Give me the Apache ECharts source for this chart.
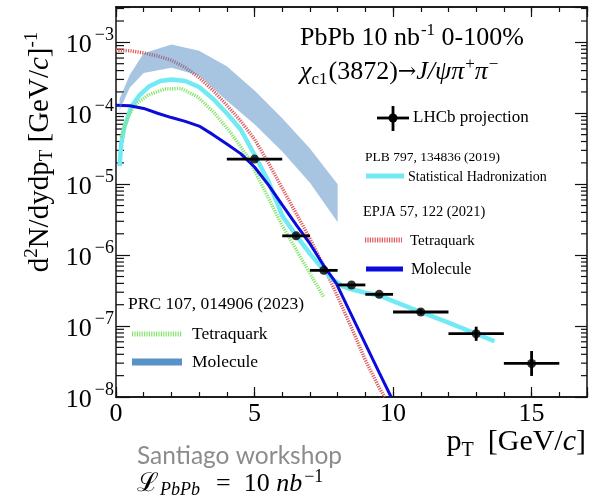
<!DOCTYPE html>
<html><head><meta charset="utf-8">
<script src="https://cdn.jsdelivr.net/npm/echarts@6/dist/echarts.min.js"></script>
<style>html,body{margin:0;padding:0;background:#fff}#c{width:610px;height:503px}</style>
</head><body><div id="c"></div>
<script>
// ---------------- data ----------------
const X_MIN = 0, X_MAX = 17, Y_MIN = 1e-8, Y_MAX = 3.15e-3;
const xTickLabels = [0, 5, 10, 15];

// LHCb projection points
const ptX    = [5, 6.5, 7.5, 8.5, 9.5, 11, 13, 15];
const ptY    = [2.26e-5, 1.87e-6, 6.1e-7, 3.8e-7, 2.8e-7, 1.58e-7, 7.8e-8, 2.97e-8];
const ptXErr = [1, 0.5, 0.5, 0.5, 0.5, 1, 1, 1];
const ptYLo  = [2.2e-5, 1.82e-6, 5.9e-7, 3.7e-7, 2.7e-7, 1.45e-7, 6.2e-8, 1.98e-8];
const ptYHi  = [2.32e-5, 1.92e-6, 6.3e-7, 3.9e-7, 2.9e-7, 1.73e-7, 9.8e-8, 4.45e-8];

// Statistical Hadronization (PLB 797)
const shmX = [0.13, 0.19, 0.31, 0.55, 0.85, 1.2, 1.6, 2.0, 2.5, 3.0, 3.5, 4.0, 4.5, 5.0, 5.5, 6.0, 6.5, 7.0, 7.5, 7.83, 8.2, 8.5, 9.0, 9.5, 10, 11, 12, 13, 13.66];
const shmY = [1.8e-5, 3.8e-5, 6.5e-5, 1.23e-4, 1.8e-4, 2.4e-4, 2.85e-4, 3.0e-4, 2.85e-4, 2.35e-4, 1.6e-4, 1.0e-4, 5.9e-5, 2.6e-5, 1.1e-5, 3.6e-6, 1.9e-6, 1.05e-6, 6.1e-7, 4.5e-7, 3.6e-7, 3.3e-7, 2.95e-7, 2.7e-7, 2.25e-7, 1.58e-7, 1.12e-7, 7.8e-8, 6.1e-8];

// EPJA 57 Tetraquark
const epjaTetX = [0, 0.5, 1.0, 1.5, 2.0, 2.5, 3.0, 3.5, 4.0, 4.5, 5.0, 5.5, 6.0, 6.5, 7.0, 7.5, 8.0, 8.5, 9.0, 9.5, 9.7];
const epjaTetY = [7.8e-4, 7.6e-4, 7.1e-4, 6.4e-4, 5.6e-4, 4.4e-4, 3.2e-4, 2.1e-4, 1.3e-4, 7.8e-5, 4.3e-5, 2.0e-5, 8.8e-6, 3.9e-6, 1.7e-6, 7.0e-7, 2.6e-7, 9.5e-8, 3.3e-8, 1.35e-8, 1.0e-8];

// EPJA 57 Molecule
const epjaMolX = [0, 0.5, 1.0, 1.5, 2.0, 2.5, 3.0, 3.5, 4.0, 4.5, 5.0, 5.5, 6.0, 6.5, 7.0, 7.5, 7.95, 8.5, 9.0, 9.5, 9.93];
const epjaMolY = [1.3e-4, 1.28e-4, 1.17e-4, 1.0e-4, 8.7e-5, 7.7e-5, 6.6e-5, 5.0e-5, 3.7e-5, 2.7e-5, 1.75e-5, 9.8e-6, 5.1e-6, 2.7e-6, 1.45e-6, 7.1e-7, 4.0e-7, 1.43e-7, 5.6e-8, 2.2e-8, 1.0e-8];

// PRC 107 Tetraquark
const prcTetX = [0.19, 0.3, 0.43, 0.67, 1.15, 1.75, 2.35, 2.95, 3.56, 4.16, 4.76, 5.24, 6.0, 6.5, 7.0, 7.49];
const prcTetY = [4.6e-5, 6.5e-5, 8.9e-5, 1.3e-4, 1.8e-4, 2.2e-4, 2.24e-4, 1.7e-4, 1.0e-4, 5.2e-5, 2.4e-5, 1.02e-5, 2.6e-6, 1.2e-6, 5.5e-7, 2.6e-7];

// PRC 107 Molecule band
const bandX  = [0.13, 0.5, 1.0, 2.0, 3.0, 4.0, 5.0, 6.0, 7.0, 8.0];
const bandHi = [1.6e-4, 3.5e-4, 7.0e-4, 9.3e-4, 7.6e-4, 4.6e-4, 2.1e-4, 8.5e-5, 3.2e-5, 1.0e-5];
const bandLo = [1.1e-4, 2.3e-4, 3.7e-4, 4.4e-4, 3.4e-4, 1.5e-4, 7.0e-5, 2.9e-5, 1.05e-5, 2.9e-6];

// ---------------- styles ----------------
const SERIF = 'Liberation Serif';
const C_SHM = '#72eaf3', C_RED = '#e05a5a', C_BLUE = '#0b0bdc', C_GREEN = '#86e46c';
const C_BAND = 'rgba(80,140,195,0.5)', C_BAND_SOLID = 'rgb(88,146,198)';
const GRAY = '#8c8c8c';

const zip = (xs, ys) => xs.map((x, i) => [x, ys[i]]);

const yMinor = [];
for (let e = -8; e <= -3; e++) for (let k = 2; k <= 9; k++) { const v = k * Math.pow(10, e); if (v < Y_MAX) yMinor.push(v); }

function supRich(size, raise, padL) { return { fontFamily: SERIF, fontSize: size, color: '#000', padding: [0, 0, raise, padL || 0] }; }
function subRich(size, drop, padR) { return { fontFamily: SERIF, fontSize: size, color: '#000', padding: [drop, padR || 0, 0, 0] }; }

const xBase = { type: 'value', min: X_MIN, max: X_MAX, splitLine: { show: false }, axisLine: { onZero: false, lineStyle: { color: '#111', width: 1.5 } } };
const yBase = { type: 'log', logBase: 10, min: Y_MIN, max: Y_MAX, splitLine: { show: false }, axisLine: { onZero: false, lineStyle: { color: '#111', width: 1.5 } } };

const option = {
  animation: false,
  backgroundColor: '#fff',
  grid: { left: 116, top: 7, width: 471, height: 390, containLabel: false },
  xAxis: [
    Object.assign({}, xBase, { position: 'bottom', interval: 5,
      axisTick: { inside: true, length: 10, lineStyle: { color: '#111', width: 1.2 } },
      axisLabel: { margin: 4, fontFamily: SERIF, fontSize: 26, color: '#000',
        formatter: v => (xTickLabels.indexOf(v) >= 0 ? String(v) : '') } }),
    Object.assign({}, xBase, { position: 'bottom', interval: 1,
      axisTick: { inside: true, length: 5, lineStyle: { color: '#111', width: 1.2 } }, axisLabel: { show: false } }),
    Object.assign({}, xBase, { position: 'top', interval: 5,
      axisTick: { inside: true, length: 10, lineStyle: { color: '#111', width: 1.2 } }, axisLabel: { show: false } }),
    Object.assign({}, xBase, { position: 'top', interval: 1,
      axisTick: { inside: true, length: 5, lineStyle: { color: '#111', width: 1.2 } }, axisLabel: { show: false } })
  ],
  yAxis: [
    Object.assign({}, yBase, { position: 'left',
      axisTick: { inside: true, length: 14, lineStyle: { color: '#111', width: 1.2 } },
      axisLabel: { margin: 2, color: '#000',
        formatter: v => {
          const e = Math.log10(v), r = Math.round(e);
          if (Math.abs(e - r) > 1e-6) return '';
          return '{b|10}{s|\u2212' + (-r) + '}';
        },
        rich: { b: { fontFamily: SERIF, fontSize: 26, color: '#000', padding: [6, 0, 0, 0] }, s: supRich(18, 14, 3) } } }),
    Object.assign({}, yBase, { position: 'right',
      axisTick: { inside: true, length: 12, lineStyle: { color: '#111', width: 1.2 } }, axisLabel: { show: false } })
  ],
  series: [
    { // minor log ticks, both sides
      type: 'custom', xAxisIndex: 0, yAxisIndex: 0, silent: true, z: 1,
      data: yMinor.map(v => [X_MIN, v]),
      renderItem: (params, api) => {
        const v = api.value(1);
        const pL = api.coord([X_MIN, v]), pR = api.coord([X_MAX, v]);
        return { type: 'group', children: [
          { type: 'line', shape: { x1: pL[0], y1: pL[1], x2: pL[0] + 8, y2: pL[1] }, style: { stroke: '#111', lineWidth: 1.2 } },
          { type: 'line', shape: { x1: pR[0], y1: pR[1], x2: pR[0] - 6, y2: pR[1] }, style: { stroke: '#111', lineWidth: 1.2 } }
        ] };
      }
    },
    { name: 'Tetraquark (EPJA)', type: 'line', data: zip(epjaTetX, epjaTetY), showSymbol: false, z: 2,
      lineStyle: { color: C_RED, width: 3.5, type: [1.2, 1.2] } },
    { name: 'Statistical Hadronization', type: 'line', data: zip(shmX, shmY), showSymbol: false, z: 2,
      lineStyle: { color: C_SHM, width: 4.5 } },
    { name: 'Tetraquark (PRC)', type: 'line', data: zip(prcTetX, prcTetY), showSymbol: false, z: 2,
      lineStyle: { color: C_GREEN, width: 3.5, type: [1.2, 1.2] } },
    { name: 'Molecule (EPJA)', type: 'line', data: zip(epjaMolX, epjaMolY), showSymbol: false, z: 3,
      lineStyle: { color: C_BLUE, width: 3 } },
    { name: 'Molecule (PRC)', type: 'custom', silent: true, z: 4,
      data: [[bandX[0], bandLo[0]]],
      renderItem: (params, api) => {
        const pts = [];
        for (let i = 0; i < bandX.length; i++) pts.push(api.coord([bandX[i], bandHi[i]]));
        for (let i = bandX.length - 1; i >= 0; i--) pts.push(api.coord([bandX[i], bandLo[i]]));
        return { type: 'polygon', shape: { points: pts }, style: { fill: C_BAND } };
      }
    },
    { name: 'LHCb projection errors', type: 'custom', silent: true, z: 6,
      data: ptX.map((x, i) => [x, ptY[i], x - ptXErr[i], x + ptXErr[i], ptYLo[i], ptYHi[i]]),
      encode: { x: 0, y: 1 },
      renderItem: (params, api) => {
        const x = api.value(0), y = api.value(1);
        const a = api.coord([api.value(2), y]), b = api.coord([api.value(3), y]);
        const c = api.coord([x, api.value(4)]), d = api.coord([x, api.value(5)]);
        return { type: 'group', children: [
          { type: 'line', shape: { x1: a[0], y1: a[1], x2: b[0], y2: b[1] }, style: { stroke: '#000', lineWidth: 2.8 } },
          { type: 'line', shape: { x1: c[0], y1: c[1], x2: d[0], y2: d[1] }, style: { stroke: '#000', lineWidth: 2.8 } }
        ] };
      }
    },
    { name: 'LHCb projection', type: 'scatter', data: zip(ptX, ptY), symbol: 'circle', symbolSize: 9, z: 7,
      itemStyle: { color: '#000' } }
  ],
  graphic: [
    // y axis title
    { type: 'text', x: 40, y: 152, rotation: Math.PI / 2, z: 10,
      style: { text: '{a|d}{s|2}{a|N/dydp}{u|T}{a| [GeV/}{i|c}{a|]}{s|-1}', align: 'center', verticalAlign: 'middle',
        rich: { a: { fontFamily: SERIF, fontSize: 29, color: '#000' }, i: { fontFamily: SERIF, fontStyle: 'italic', fontSize: 29, color: '#000' },
                s: supRich(19, 16), u: subRich(19, 14) } } },
    // x axis title
    { type: 'text', x: 586, y: 442, z: 10,
      style: { text: '{a|p}{u|T}{a|[GeV/}{i|c}{a|]}', align: 'right', verticalAlign: 'middle',
        rich: { a: { fontFamily: SERIF, fontSize: 30, color: '#000' }, i: { fontFamily: SERIF, fontStyle: 'italic', fontSize: 30, color: '#000' },
                u: subRich(20, 17, 14) } } },
    // header text
    { type: 'text', x: 300, y: 38, z: 10,
      style: { text: '{a|PbPb 10 nb}{s|-1}{a| 0-100%}', align: 'left', verticalAlign: 'middle',
        rich: { a: { fontFamily: SERIF, fontSize: 26, color: '#000' }, s: supRich(17, 14, 1) } } },
    { type: 'text', x: 300, y: 72, z: 10,
      style: { text: '{i|\u03c7}{u|c1}{a|(3872)}{r|\u2192}{i|J/\u03c8\u03c0}{s|+}{i|\u03c0}{s|\u2212}', align: 'left', verticalAlign: 'middle',
        rich: { a: { fontFamily: SERIF, fontSize: 26, color: '#000' }, i: { fontFamily: SERIF, fontStyle: 'italic', fontSize: 26, color: '#000' },
                r: { fontFamily: 'DejaVu Serif', fontSize: 22, color: '#000' },
                s: supRich(17, 15, 1), u: subRich(17, 15, 1) } } },
    // LHCb legend
    { type: 'line', z: 10, shape: { x1: 377, y1: 118, x2: 409, y2: 118 }, style: { stroke: '#000', lineWidth: 2.8 } },
    { type: 'line', z: 10, shape: { x1: 393, y1: 106, x2: 393, y2: 131 }, style: { stroke: '#000', lineWidth: 2.8 } },
    { type: 'circle', z: 10, shape: { cx: 393, cy: 118, r: 4.5 }, style: { fill: '#000' } },
    { type: 'text', x: 413, y: 118, z: 10, style: { text: 'LHCb projection', fontFamily: SERIF, fontSize: 17, fill: '#000', verticalAlign: 'middle' } },
    // PLB block
    { type: 'text', x: 365, y: 157, z: 10, style: { text: 'PLB 797, 134836 (2019)', fontFamily: SERIF, fontSize: 13.5, fill: '#000', verticalAlign: 'middle' } },
    { type: 'line', z: 10, shape: { x1: 366, y1: 176, x2: 404, y2: 176 }, style: { stroke: C_SHM, lineWidth: 5 } },
    { type: 'text', x: 408, y: 177, z: 10, style: { text: 'Statistical Hadronization', fontFamily: SERIF, fontSize: 14, fill: '#000', verticalAlign: 'middle' } },
    // EPJA block
    { type: 'text', x: 363, y: 212, z: 10, style: { text: 'EPJA 57, 122 (2021)', fontFamily: SERIF, fontSize: 14.5, fill: '#000', verticalAlign: 'middle' } },
    { type: 'line', z: 10, shape: { x1: 365, y1: 240, x2: 402, y2: 240 }, style: { stroke: C_RED, lineWidth: 5, lineDash: [1.2, 1.2] } },
    { type: 'text', x: 410, y: 241, z: 10, style: { text: 'Tetraquark', fontFamily: SERIF, fontSize: 15, fill: '#000', verticalAlign: 'middle' } },
    { type: 'line', z: 10, shape: { x1: 366, y1: 269, x2: 403, y2: 269 }, style: { stroke: C_BLUE, lineWidth: 5 } },
    { type: 'text', x: 411, y: 270, z: 10, style: { text: 'Molecule', fontFamily: SERIF, fontSize: 16, fill: '#000', verticalAlign: 'middle' } },
    // PRC block
    { type: 'text', x: 128, y: 304, z: 10, style: { text: 'PRC 107, 014906 (2023)', fontFamily: SERIF, fontSize: 17.5, fill: '#000', verticalAlign: 'middle' } },
    { type: 'line', z: 10, shape: { x1: 132, y1: 334, x2: 182, y2: 334 }, style: { stroke: C_GREEN, lineWidth: 5, lineDash: [1.2, 1.2] } },
    { type: 'text', x: 192, y: 334, z: 10, style: { text: 'Tetraquark', fontFamily: SERIF, fontSize: 17.5, fill: '#000', verticalAlign: 'middle' } },
    { type: 'line', z: 10, shape: { x1: 132, y1: 362, x2: 182, y2: 362 }, style: { stroke: C_BAND_SOLID, lineWidth: 7 } },
    { type: 'text', x: 192, y: 362, z: 10, style: { text: 'Molecule', fontFamily: SERIF, fontSize: 17.5, fill: '#000', verticalAlign: 'middle' } },
    // workshop note
    { type: 'text', x: 137, y: 456, z: 10, style: { text: 'Santiago workshop', fontFamily: 'Lato', fontSize: 24.5, fill: GRAY, verticalAlign: 'middle' } },
    { type: 'text', x: 137, y: 484, z: 10,
      style: { text: '{L|\u2112}{u|PbPb}{a|  =  10 }{i|nb}{s|\u22121}', verticalAlign: 'middle',
        rich: { L: { fontFamily: 'DejaVu Serif', fontSize: 26, color: GRAY },
                a: { fontFamily: SERIF, fontSize: 26, color: GRAY },
                i: { fontFamily: SERIF, fontStyle: 'italic', fontSize: 26, color: GRAY },
                u: { fontFamily: SERIF, fontStyle: 'italic', fontSize: 18, color: GRAY, padding: [13, 3, 0, 1] },
                s: { fontFamily: SERIF, fontSize: 18, color: GRAY, padding: [0, 0, 13, 2] } } } }
  ]
};

const chart = echarts.init(document.getElementById('c'), null, { renderer: 'canvas' });
chart.setOption(option);
</script>
</body></html>
